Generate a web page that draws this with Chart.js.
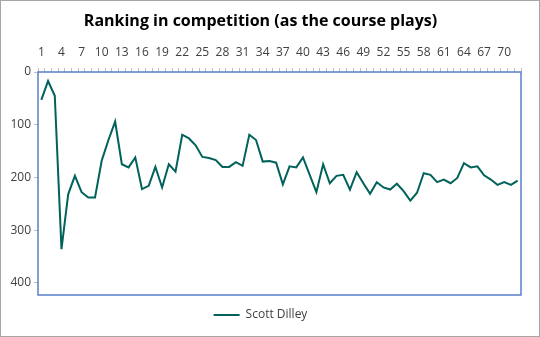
<!DOCTYPE html>
<html>
<head>
  <meta charset="UTF-8">
  <title>Ranking in competition</title>
  <script src="https://cdn.jsdelivr.net/npm/chart.js"></script>
  <style>
    body { margin: 0; background: #fff; }
    #wrap { width: 540px; height: 337px; }
  </style>
</head>
<body>
  <div id="wrap"><canvas id="rank-chart" width="540" height="337"></canvas></div>

  <script>
    // holes played (1..72), labels shown every 3rd
    const holes = [];
    for (let i = 1; i <= 72; i++) holes.push(String(i));

    const seriesName = 'Scott Dilley';
    const rankings = [
      53, 17, 45, 336, 232, 197, 228, 238, 238, 168,
      129, 94, 175, 181, 162, 222, 216, 180, 219, 175,
      189, 119, 126, 139, 161, 163, 167, 180, 180, 171,
      178, 119, 129, 170, 169, 172, 213, 179, 181, 162,
      195, 228, 175, 211, 197, 195, 223, 190, 211, 231,
      209, 219, 223, 212, 226, 244, 229, 192, 195, 209,
      204, 211, 201, 173, 181, 179, 196, 204, 214, 209,
      214, 206
    ];
    const yTicks = [0, 100, 200, 300, 400];

    const FONT = "'Open Sans', 'Liberation Sans', sans-serif";

    // blue plot-area border and grey outer frame, like the spreadsheet chart
    const frames = {
      id: 'frames',
      afterDatasetsDraw(chart) {
        const { ctx, chartArea: a } = chart;
        ctx.save();
        ctx.strokeStyle = '#5a7fcb';
        ctx.lineWidth = 1.5;
        ctx.strokeRect(a.left, a.top, a.right - a.left, a.bottom - a.top);
        ctx.strokeStyle = '#a6a6a6';
        ctx.lineWidth = 1;
        ctx.strokeRect(0.5, 0.5, chart.width - 1, chart.height - 1);
        ctx.restore();
      }
    };

    new Chart(document.getElementById('rank-chart'), {
      type: 'line',
      data: {
        labels: holes,
        datasets: [{
          label: seriesName,
          data: rankings,
          borderColor: '#00625a',
          backgroundColor: '#00625a',
          borderWidth: 2,
          pointRadius: 0,
          tension: 0
        }]
      },
      options: {
        responsive: false,
        animation: false,
        layout: { padding: { left: 0, right: 19, top: 0, bottom: 6 } },
        plugins: {
          title: {
            display: true,
            text: 'Ranking in competition (as the course plays)',
            color: '#000',
            font: { family: FONT, size: 16, weight: 'bold' },
            padding: { top: 12, bottom: 0 }
          },
          legend: {
            position: 'bottom',
            labels: {
              color: '#404040',
              font: { family: FONT, size: 12 },
              usePointStyle: true,
              pointStyle: 'line',
              pointStyleWidth: 26,
              padding: 14
            }
          },
          tooltip: { enabled: false }
        },
        scales: {
          x: {
            position: 'top',
            offset: true,
            grid: {
              offset: true,
              drawOnChartArea: false,
              color: '#bfbfbf',
              tickLength: 4
            },
            border: { display: false },
            ticks: {
              autoSkip: false,
              maxRotation: 0,
              color: '#404040',
              font: { family: FONT, size: 12 },
              padding: 8,
              callback: (v, i) => (i % 3 === 0 ? holes[i] : '')
            },
            afterFit: s => { s.height = 40.8; }
          },
          y: {
            reverse: true,
            min: 0,
            max: 423,
            afterBuildTicks: s => { s.ticks = yTicks.map(v => ({ value: v })); },
            grid: {
              drawOnChartArea: false,
              color: '#bfbfbf',
              tickLength: 4
            },
            border: { display: false },
            ticks: {
              color: '#404040',
              font: { family: FONT, size: 12 },
              padding: 3
            },
            afterFit: s => { s.width = 38; }
          }
        }
      },
      plugins: [frames]
    });
  </script>
</body>
</html>
